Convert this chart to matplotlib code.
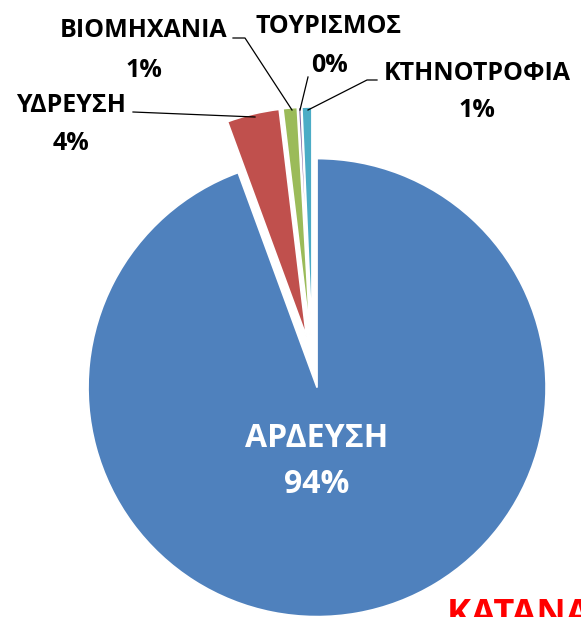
import matplotlib.pyplot as plt

plt.rcParams['font.family'] = ['Open Sans', 'DejaVu Sans']

# consumption shares (%), clockwise from 12 o'clock
categories = ['ΑΡΔΕΥΣΗ', 'ΥΔΡΕΥΣΗ', 'ΒΙΟΜΗΧΑΝΙΑ', 'ΤΟΥΡΙΣΜΟΣ', 'ΚΤΗΝΟΤΡΟΦΙΑ']
shares = [94.4, 3.7, 1.0, 0.2, 0.7]
pct_labels = ['94%', '4%', '1%', '0%', '1%']
colors = ['#4F81BD', '#C0504D', '#9BBB59', '#8064A2', '#4BACC6']

W, H = 581, 617
fig = plt.figure(figsize=(W / 100, H / 100), dpi=100)
ax = fig.add_axes([0, 0, 1, 1])

def py(y):
    # pixel row (from top) -> data y
    return H - y

R = 229
ax.pie(shares, colors=colors, startangle=90, counterclock=False,
       radius=R, center=(312.5, py(362)), explode=[26] * len(shares),
       wedgeprops=dict(edgecolor='white', linewidth=1.2))
ax.set_xlim(0, W)
ax.set_ylim(0, H)
ax.set_aspect('equal')
ax.axis('off')

# outside labels: (x centre, baseline of name, baseline of pct)
lab_pos = {
    1: (71, 112, 150),
    2: (144, 37, 77),
    3: (329, 33, 72),
    4: (477, 80, 117),
}
for i, (x, yb1, yb2) in lab_pos.items():
    ax.text(x, py(yb1), categories[i], ha='center', va='baseline',
            fontsize=18, fontweight='bold', color='black')
    ax.text(x, py(yb2), pct_labels[i], ha='center', va='baseline',
            fontsize=18, fontweight='bold', color='black')

# leader lines
leaders = [
    [(133, 112), (255, 117)],
    [(233, 38), (245, 38), (292, 110)],
    [(308, 77), (300, 110)],
    [(377, 80), (367, 80), (308, 110)],
]
for pts in leaders:
    ax.plot([p[0] for p in pts], [py(p[1]) for p in pts], color='black', lw=0.9)

# inside label
ax.text(317, py(447), categories[0], ha='center', va='baseline',
        fontsize=23, fontweight='bold', color='white')
ax.text(317, py(493), pct_labels[0], ha='center', va='baseline',
        fontsize=23, fontweight='bold', color='white')

# title cut off at the bottom right
ax.text(447, py(625), 'ΚΑΤΑΝΑΛΩΣΗ ΝΕΡΟΥ', ha='left', va='baseline',
        fontsize=26, fontweight='bold', color='#FF0000')

fig.savefig('out.png', dpi=100)
